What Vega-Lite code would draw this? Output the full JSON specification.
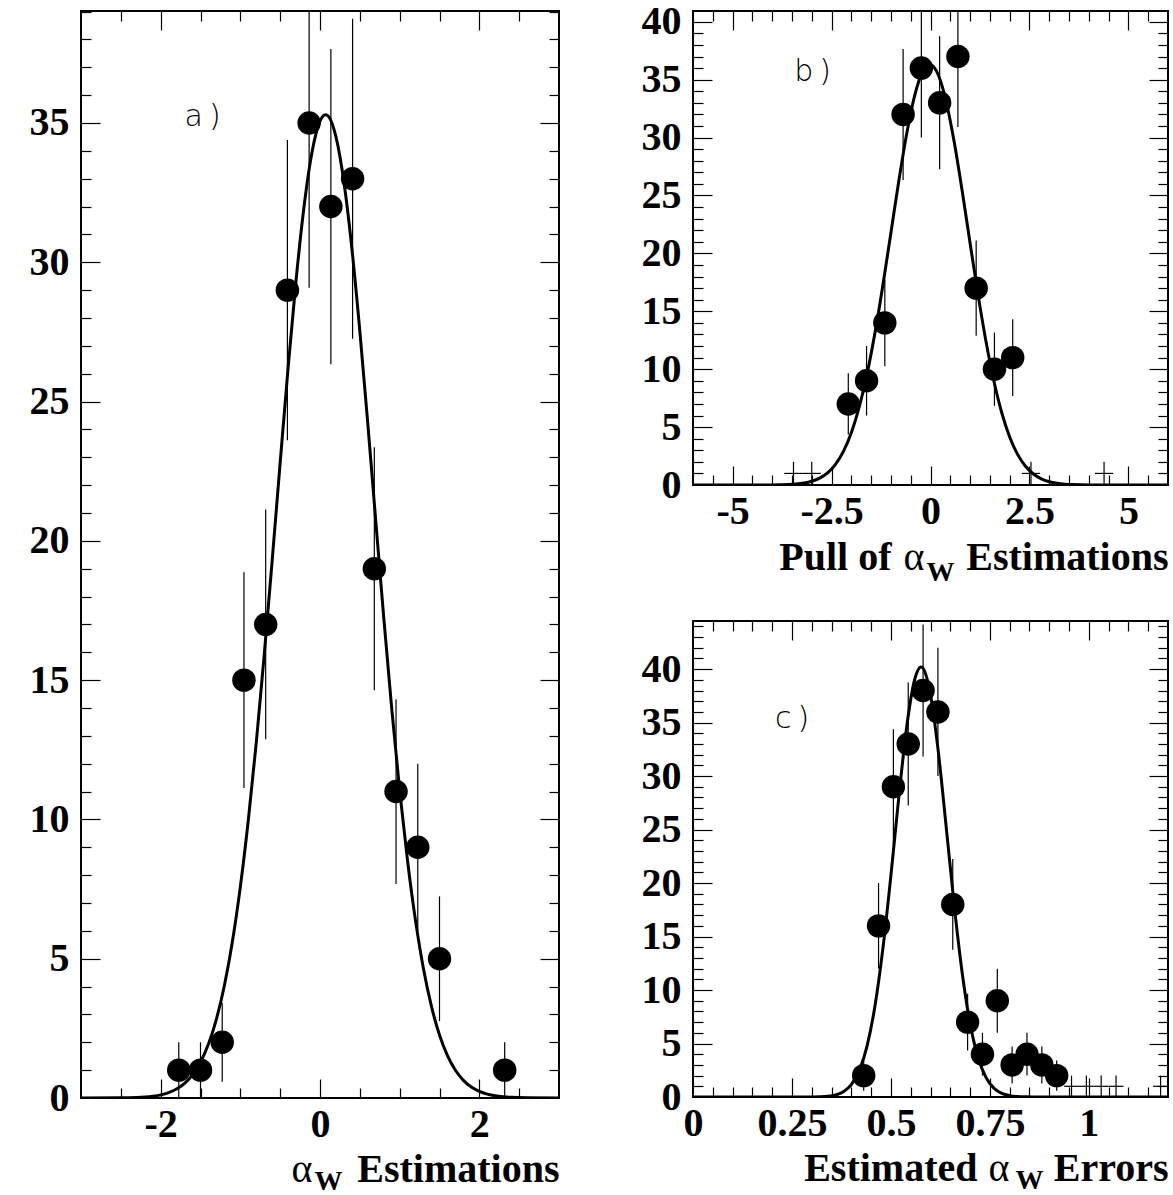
{
  "$schema": "https://vega.github.io/schema/vega-lite/v6.json",
  "background": "white",
  "padding": {"left": 28, "top": 0, "right": 0, "bottom": 0},
  "spacing": 134,
  "bounds": "flush",
  "config": {
    "view": {"stroke": "black", "strokeWidth": 2},
    "axis": {
      "grid": false,
      "domain": false,
      "labelFont": "Liberation Serif",
      "labelFontWeight": "bold",
      "labelFontSize": 40,
      "labelColor": "black",
      "labelFlush": false,
      "labelOverlap": false,
      "titleFont": "Liberation Serif",
      "titleFontWeight": "bold",
      "titleFontSize": 40,
      "titleColor": "black",
      "tickColor": "black",
      "tickWidth": 1.2
    }
  },
  "datasets": {
    "pointsA": [
      {"x": -1.7727, "n": 1, "lo": 0, "hi": 2},
      {"x": -1.5, "n": 1, "lo": 0, "hi": 2},
      {"x": -1.2273, "n": 2, "lo": 0.586, "hi": 3.414},
      {"x": -0.9545, "n": 15, "lo": 11.127, "hi": 18.873},
      {"x": -0.6818, "n": 17, "lo": 12.877, "hi": 21.123},
      {"x": -0.4091, "n": 29, "lo": 23.615, "hi": 34.385},
      {"x": -0.1364, "n": 35, "lo": 29.084, "hi": 40.916},
      {"x": 0.1364, "n": 32, "lo": 26.343, "hi": 37.657},
      {"x": 0.4091, "n": 33, "lo": 27.255, "hi": 38.745},
      {"x": 0.6818, "n": 19, "lo": 14.641, "hi": 23.359},
      {"x": 0.9545, "n": 11, "lo": 7.683, "hi": 14.317},
      {"x": 1.2273, "n": 9, "lo": 6, "hi": 12},
      {"x": 1.5, "n": 5, "lo": 2.764, "hi": 7.236},
      {"x": 2.3182, "n": 1, "lo": 0, "hi": 2}
    ],
    "curveA": [
      {"x": -3.0, "f": 0}, {"x": -2.5, "f": 0.005}, {"x": -2.3, "f": 0.019}, {"x": -2.2, "f": 0.035},
      {"x": -2.1, "f": 0.063}, {"x": -2.0, "f": 0.111}, {"x": -1.9, "f": 0.192}, {"x": -1.8, "f": 0.321},
      {"x": -1.7, "f": 0.524}, {"x": -1.6, "f": 0.832}, {"x": -1.5, "f": 1.286}, {"x": -1.4, "f": 1.935},
      {"x": -1.3, "f": 2.835}, {"x": -1.2, "f": 4.04}, {"x": -1.1, "f": 5.61}, {"x": -1.0, "f": 7.58},
      {"x": -0.9, "f": 9.97}, {"x": -0.8, "f": 12.76}, {"x": -0.7, "f": 15.91}, {"x": -0.6, "f": 19.31},
      {"x": -0.5, "f": 22.81}, {"x": -0.4, "f": 26.23}, {"x": -0.3, "f": 29.37}, {"x": -0.2, "f": 32.01},
      {"x": -0.1, "f": 33.96}, {"x": 0.0, "f": 35.07}, {"x": 0.07, "f": 35.3}, {"x": 0.1, "f": 35.26},
      {"x": 0.2, "f": 34.51}, {"x": 0.3, "f": 32.88}, {"x": 0.4, "f": 30.5}, {"x": 0.5, "f": 27.53},
      {"x": 0.6, "f": 24.21}, {"x": 0.7, "f": 20.71}, {"x": 0.8, "f": 17.25}, {"x": 0.9, "f": 13.99},
      {"x": 1.0, "f": 11.04}, {"x": 1.1, "f": 8.49}, {"x": 1.2, "f": 6.35}, {"x": 1.3, "f": 4.62},
      {"x": 1.4, "f": 3.28}, {"x": 1.5, "f": 2.26}, {"x": 1.6, "f": 1.52}, {"x": 1.7, "f": 0.994},
      {"x": 1.8, "f": 0.633}, {"x": 1.9, "f": 0.392}, {"x": 2.0, "f": 0.237}, {"x": 2.1, "f": 0.139},
      {"x": 2.2, "f": 0.079}, {"x": 2.3, "f": 0.044}, {"x": 2.4, "f": 0.024}, {"x": 2.6, "f": 0.0065},
      {"x": 3.0, "f": 0}
    ],
    "pointsB": [
      {"x": -2.0769, "n": 7, "lo": 4.354, "hi": 9.646},
      {"x": -1.6154, "n": 9, "lo": 6, "hi": 12},
      {"x": -1.1538, "n": 14, "lo": 10.258, "hi": 17.742},
      {"x": -0.6923, "n": 32, "lo": 26.343, "hi": 37.657},
      {"x": -0.2308, "n": 36, "lo": 30, "hi": 42},
      {"x": 0.2308, "n": 33, "lo": 27.255, "hi": 38.745},
      {"x": 0.6923, "n": 37, "lo": 30.917, "hi": 43.083},
      {"x": 1.1538, "n": 17, "lo": 12.877, "hi": 21.123},
      {"x": 1.6154, "n": 10, "lo": 6.838, "hi": 13.162},
      {"x": 2.0769, "n": 11, "lo": 7.683, "hi": 14.317}
    ],
    "crossB": [
      {"x": -3.4615, "xlo": -3.6923, "xhi": -3.2308, "n": 1, "lo": 0, "hi": 2},
      {"x": -3.0, "xlo": -3.2308, "xhi": -2.7692, "n": 1, "lo": 0, "hi": 2},
      {"x": 2.5385, "xlo": 2.3077, "xhi": 2.7692, "n": 1, "lo": 0, "hi": 2},
      {"x": 4.3846, "xlo": 4.1538, "xhi": 4.6154, "n": 1, "lo": 0, "hi": 2}
    ],
    "curveB": [
      {"x": -6.0, "f": 0}, {"x": -4.5, "f": 0.0008}, {"x": -4.0, "f": 0.008}, {"x": -3.6, "f": 0.04},
      {"x": -3.4, "f": 0.084}, {"x": -3.2, "f": 0.168}, {"x": -3.0, "f": 0.324}, {"x": -2.8, "f": 0.598},
      {"x": -2.6, "f": 1.056}, {"x": -2.4, "f": 1.789}, {"x": -2.2, "f": 2.906}, {"x": -2.0, "f": 4.52},
      {"x": -1.8, "f": 6.74}, {"x": -1.6, "f": 9.63}, {"x": -1.4, "f": 13.2}, {"x": -1.2, "f": 17.32},
      {"x": -1.0, "f": 21.79}, {"x": -0.8, "f": 26.27}, {"x": -0.6, "f": 30.36}, {"x": -0.4, "f": 33.62},
      {"x": -0.2, "f": 35.68}, {"x": 0.0, "f": 36.29}, {"x": 0.2, "f": 35.38}, {"x": 0.4, "f": 33.05},
      {"x": 0.6, "f": 29.59}, {"x": 0.8, "f": 25.4}, {"x": 1.0, "f": 20.88}, {"x": 1.2, "f": 16.46},
      {"x": 1.4, "f": 12.43}, {"x": 1.6, "f": 9.0}, {"x": 1.8, "f": 6.24}, {"x": 2.0, "f": 4.15},
      {"x": 2.2, "f": 2.646}, {"x": 2.4, "f": 1.615}, {"x": 2.6, "f": 0.946}, {"x": 2.8, "f": 0.53},
      {"x": 3.0, "f": 0.285}, {"x": 3.2, "f": 0.147}, {"x": 3.4, "f": 0.073}, {"x": 3.6, "f": 0.034},
      {"x": 4.0, "f": 0.007}, {"x": 4.5, "f": 0.0007}, {"x": 6.0, "f": 0}
    ],
    "pointsC": [
      {"x": 0.43125, "n": 2, "lo": 0.586, "hi": 3.414},
      {"x": 0.46875, "n": 16, "lo": 12, "hi": 20},
      {"x": 0.50625, "n": 29, "lo": 23.615, "hi": 34.385},
      {"x": 0.54375, "n": 33, "lo": 27.255, "hi": 38.745},
      {"x": 0.58125, "n": 38, "lo": 31.836, "hi": 44.164},
      {"x": 0.61875, "n": 36, "lo": 30, "hi": 42},
      {"x": 0.65625, "n": 18, "lo": 13.757, "hi": 22.243},
      {"x": 0.69375, "n": 7, "lo": 4.354, "hi": 9.646},
      {"x": 0.73125, "n": 4, "lo": 2, "hi": 6},
      {"x": 0.76875, "n": 9, "lo": 6, "hi": 12},
      {"x": 0.80625, "n": 3, "lo": 1.268, "hi": 4.732},
      {"x": 0.84375, "n": 4, "lo": 2, "hi": 6},
      {"x": 0.88125, "n": 3, "lo": 1.268, "hi": 4.732},
      {"x": 0.91875, "n": 2, "lo": 0.586, "hi": 3.414}
    ],
    "crossC": [
      {"x": 0.95625, "xlo": 0.9375, "xhi": 0.975, "n": 1, "lo": 0, "hi": 2},
      {"x": 0.99375, "xlo": 0.975, "xhi": 1.0125, "n": 1, "lo": 0, "hi": 2},
      {"x": 1.03125, "xlo": 1.0125, "xhi": 1.05, "n": 1, "lo": 0, "hi": 2},
      {"x": 1.06875, "xlo": 1.05, "xhi": 1.0875, "n": 1, "lo": 0, "hi": 2},
      {"x": 1.18125, "xlo": 1.1625, "xhi": 1.2, "n": 1, "lo": 0, "hi": 2}
    ],
    "curveC": [
      {"x": 0.0, "f": 0}, {"x": 0.28, "f": 0.0017}, {"x": 0.3, "f": 0.0064}, {"x": 0.32, "f": 0.0217},
      {"x": 0.34, "f": 0.0673}, {"x": 0.36, "f": 0.19}, {"x": 0.38, "f": 0.489}, {"x": 0.4, "f": 1.149},
      {"x": 0.42, "f": 2.461}, {"x": 0.44, "f": 4.81}, {"x": 0.46, "f": 8.58}, {"x": 0.48, "f": 13.96},
      {"x": 0.5, "f": 20.72}, {"x": 0.52, "f": 28.05}, {"x": 0.54, "f": 34.64}, {"x": 0.56, "f": 39.03},
      {"x": 0.576, "f": 40.2}, {"x": 0.58, "f": 40.13}, {"x": 0.6, "f": 37.63}, {"x": 0.62, "f": 32.19},
      {"x": 0.64, "f": 25.12}, {"x": 0.66, "f": 17.89}, {"x": 0.68, "f": 11.62}, {"x": 0.7, "f": 6.88},
      {"x": 0.72, "f": 3.72}, {"x": 0.74, "f": 1.835}, {"x": 0.76, "f": 0.825}, {"x": 0.78, "f": 0.339},
      {"x": 0.8, "f": 0.127}, {"x": 0.82, "f": 0.0433}, {"x": 0.84, "f": 0.0135}, {"x": 0.86, "f": 0.0038},
      {"x": 0.9, "f": 0}, {"x": 1.2, "f": 0}
    ]
  },
  "hconcat": [
    {
      "width": 478,
      "height": 1087,
      "resolve": {"axis": {"x": "independent", "y": "independent"}},
      "layer": [
        {
          "data": {"name": "pointsA"},
          "mark": {"type": "rule", "color": "black", "strokeWidth": 1.2, "clip": true},
          "encoding": {
            "x": {"field": "x", "type": "quantitative", "scale": {"domain": [-3, 3], "nice": false, "zero": false},
              "axis": {"orient": "bottom", "values": [-2.5, -2, -1.5, -1, -0.5, 0, 0.5, 1, 1.5, 2, 2.5], "labels": false,
                "tickSize": {"condition": {"test": "datum.value % 2 == 0", "value": -19}, "value": -10},
                "title": "α", "titleX": 231, "titleY": 83, "titleAlign": "right", "titleBaseline": "alphabetic", "titleFontWeight": "normal"}},
            "y": {"field": "lo", "type": "quantitative", "scale": {"domain": [0, 39.02], "nice": false},
              "axis": {"orient": "left", "values": [1,2,3,4,5,6,7,8,9,10,11,12,13,14,15,16,17,18,19,20,21,22,23,24,25,26,27,28,29,30,31,32,33,34,35,36,37,38,39], "labels": false,
                "tickSize": {"condition": {"test": "datum.value % 5 == 0", "value": -19}, "value": -10}, "title": null}},
            "y2": {"field": "hi"}
          }
        },
        {
          "data": {"name": "curveA"},
          "mark": {"type": "line", "color": "black", "strokeWidth": 3, "interpolate": "monotone", "clip": true},
          "encoding": {
            "x": {"field": "x", "type": "quantitative", "scale": {"domain": [-3, 3], "nice": false, "zero": false},
              "axis": {"orient": "top", "values": [-2.5, -2, -1.5, -1, -0.5, 0, 0.5, 1, 1.5, 2, 2.5], "labels": false,
                "tickSize": {"condition": {"test": "datum.value % 2 == 0", "value": -19}, "value": -10},
                "title": "W", "titleX": 233, "titleY": 1178, "titleAlign": "left", "titleBaseline": "alphabetic", "titleFontSize": 28}},
            "y": {"field": "f", "type": "quantitative", "scale": {"domain": [0, 39.02], "nice": false},
              "axis": {"orient": "right", "values": [1,2,3,4,5,6,7,8,9,10,11,12,13,14,15,16,17,18,19,20,21,22,23,24,25,26,27,28,29,30,31,32,33,34,35,36,37,38,39], "labels": false,
                "tickSize": {"condition": {"test": "datum.value % 5 == 0", "value": -19}, "value": -10}, "title": null}}
          }
        },
        {
          "data": {"name": "pointsA"},
          "mark": {"type": "point", "filled": true, "size": 550, "color": "black", "opacity": 1},
          "encoding": {
            "x": {"field": "x", "type": "quantitative", "scale": {"domain": [-3, 3], "nice": false, "zero": false},
              "axis": {"orient": "bottom", "values": [-2, 0, 2], "ticks": false, "labelPadding": 38, "labelBaseline": "alphabetic",
                "labelExpr": "'' + datum.value",
                "title": "Estimations", "titleX": 478, "titleY": 83, "titleAlign": "right", "titleBaseline": "alphabetic"}},
            "y": {"field": "n", "type": "quantitative", "scale": {"domain": [0, 39.02], "nice": false},
              "axis": {"orient": "left", "values": [0, 5, 10, 15, 20, 25, 30, 35], "ticks": false, "labelPadding": 12,
                "labelExpr": "'' + datum.value", "title": null}}
          }
        },
        {
          "data": {"values": [{}]},
          "mark": {"type": "text", "text": "a\u2009)", "align": "left", "baseline": "middle", "font": "DejaVu Sans", "fontWeight": 200, "fontSize": 30, "color": "black"},
          "encoding": {
            "x": {"datum": -1.7, "type": "quantitative", "axis": null},
            "y": {"datum": 35.2, "type": "quantitative", "axis": null}
          }
        }
      ]
    },
    {
      "spacing": 136,
      "bounds": "flush",
      "vconcat": [
        {
          "width": 475,
          "height": 474,
          "resolve": {"axis": {"x": "independent", "y": "independent"}},
          "layer": [
            {
              "data": {"name": "pointsB"},
              "mark": {"type": "rule", "color": "black", "strokeWidth": 1.2, "clip": true},
              "encoding": {
                "x": {"field": "x", "type": "quantitative", "scale": {"domain": [-6, 6], "nice": false, "zero": false},
                  "axis": {"orient": "bottom", "values": [-5.5,-5,-4.5,-4,-3.5,-3,-2.5,-2,-1.5,-1,-0.5,0,0.5,1,1.5,2,2.5,3,3.5,4,4.5,5,5.5], "labels": false,
                    "tickSize": {"condition": {"test": "datum.value % 2.5 == 0", "value": -19}, "value": -10},
                    "title": "α", "titleX": 231, "titleY": 84, "titleAlign": "right", "titleBaseline": "alphabetic", "titleFontWeight": "normal"}},
                "y": {"field": "lo", "type": "quantitative", "scale": {"domain": [0, 40.93], "nice": false},
                  "axis": {"orient": "left", "values": [1,2,3,4,5,6,7,8,9,10,11,12,13,14,15,16,17,18,19,20,21,22,23,24,25,26,27,28,29,30,31,32,33,34,35,36,37,38,39,40], "labels": false,
                    "tickSize": {"condition": {"test": "datum.value % 5 == 0", "value": -19}, "value": -10}, "title": null}},
                "y2": {"field": "hi"}
              }
            },
            {
              "data": {"name": "crossB"},
              "mark": {"type": "rule", "color": "black", "strokeWidth": 1.2, "clip": true},
              "encoding": {
                "x": {"field": "xlo", "type": "quantitative", "scale": {"domain": [-6, 6], "nice": false, "zero": false}, "axis": null},
                "x2": {"field": "xhi"},
                "y": {"field": "n", "type": "quantitative", "scale": {"domain": [0, 40.93], "nice": false}, "axis": null}
              }
            },
            {
              "data": {"name": "crossB"},
              "mark": {"type": "rule", "color": "black", "strokeWidth": 1.2, "clip": true},
              "encoding": {
                "x": {"field": "x", "type": "quantitative", "scale": {"domain": [-6, 6], "nice": false, "zero": false}, "axis": null},
                "y": {"field": "lo", "type": "quantitative", "scale": {"domain": [0, 40.93], "nice": false}, "axis": null},
                "y2": {"field": "hi"}
              }
            },
            {
              "data": {"name": "curveB"},
              "mark": {"type": "line", "color": "black", "strokeWidth": 3, "interpolate": "monotone", "clip": true},
              "encoding": {
                "x": {"field": "x", "type": "quantitative", "scale": {"domain": [-6, 6], "nice": false, "zero": false},
                  "axis": {"orient": "top", "values": [-5.5,-5,-4.5,-4,-3.5,-3,-2.5,-2,-1.5,-1,-0.5,0,0.5,1,1.5,2,2.5,3,3.5,4,4.5,5,5.5], "labels": false,
                    "tickSize": {"condition": {"test": "datum.value % 2.5 == 0", "value": -19}, "value": -10},
                    "title": "W", "titleX": 233, "titleY": 569, "titleAlign": "left", "titleBaseline": "alphabetic", "titleFontSize": 28}},
                "y": {"field": "f", "type": "quantitative", "scale": {"domain": [0, 40.93], "nice": false},
                  "axis": {"orient": "right", "values": [1,2,3,4,5,6,7,8,9,10,11,12,13,14,15,16,17,18,19,20,21,22,23,24,25,26,27,28,29,30,31,32,33,34,35,36,37,38,39,40], "labels": false,
                    "tickSize": {"condition": {"test": "datum.value % 5 == 0", "value": -19}, "value": -10}, "title": null}}
              }
            },
            {
              "data": {"name": "pointsB"},
              "mark": {"type": "point", "filled": true, "size": 550, "color": "black", "opacity": 1},
              "encoding": {
                "x": {"field": "x", "type": "quantitative", "scale": {"domain": [-6, 6], "nice": false, "zero": false},
                  "axis": {"orient": "bottom", "values": [-5, -2.5, 0, 2.5, 5], "ticks": false, "labelPadding": 38, "labelBaseline": "alphabetic",
                    "labelExpr": "'' + datum.value",
                    "title": "Estimations", "titleX": 475, "titleY": 84, "titleAlign": "right", "titleBaseline": "alphabetic"}},
                "y": {"field": "n", "type": "quantitative", "scale": {"domain": [0, 40.93], "nice": false},
                  "axis": {"orient": "left", "values": [0, 5, 10, 15, 20, 25, 30, 35, 40], "ticks": false, "labelPadding": 12,
                    "labelExpr": "'' + datum.value",
                    "title": "Pull of", "titleAngle": 0, "titleX": 198, "titleY": 558, "titleAlign": "right", "titleBaseline": "alphabetic"}}
              }
            },
            {
              "data": {"values": [{}]},
              "mark": {"type": "text", "text": "b\u2009)", "align": "left", "baseline": "middle", "font": "DejaVu Sans", "fontWeight": 200, "fontSize": 30, "color": "black"},
              "encoding": {
                "x": {"datum": -3.44, "type": "quantitative", "axis": null},
                "y": {"datum": 35.7, "type": "quantitative", "axis": null}
              }
            }
          ]
        },
        {
          "width": 475,
          "height": 476,
          "resolve": {"axis": {"x": "independent", "y": "independent"}},
          "layer": [
            {
              "data": {"name": "pointsC"},
              "mark": {"type": "rule", "color": "black", "strokeWidth": 1.2, "clip": true},
              "encoding": {
                "x": {"field": "x", "type": "quantitative", "scale": {"domain": [0, 1.2], "nice": false, "zero": false},
                  "axis": {"orient": "bottom", "values": [0.05,0.1,0.15,0.2,0.25,0.3,0.35,0.4,0.45,0.5,0.55,0.6,0.65,0.7,0.75,0.8,0.85,0.9,0.95,1,1.05,1.1,1.15], "labels": false,
                    "tickSize": {"condition": {"test": "round(datum.value * 20) % 5 == 0", "value": -19}, "value": -10},
                    "title": "α", "titleX": 316, "titleY": 83, "titleAlign": "right", "titleBaseline": "alphabetic", "titleFontWeight": "normal"}},
                "y": {"field": "lo", "type": "quantitative", "scale": {"domain": [0, 44.5], "nice": false},
                  "axis": {"orient": "left", "values": [1,2,3,4,5,6,7,8,9,10,11,12,13,14,15,16,17,18,19,20,21,22,23,24,25,26,27,28,29,30,31,32,33,34,35,36,37,38,39,40,41,42,43,44], "labels": false,
                    "tickSize": {"condition": {"test": "datum.value % 5 == 0", "value": -19}, "value": -10}, "title": null}},
                "y2": {"field": "hi"}
              }
            },
            {
              "data": {"name": "crossC"},
              "mark": {"type": "rule", "color": "black", "strokeWidth": 1.2, "clip": true},
              "encoding": {
                "x": {"field": "xlo", "type": "quantitative", "scale": {"domain": [0, 1.2], "nice": false, "zero": false}, "axis": null},
                "x2": {"field": "xhi"},
                "y": {"field": "n", "type": "quantitative", "scale": {"domain": [0, 44.5], "nice": false}, "axis": null}
              }
            },
            {
              "data": {"name": "crossC"},
              "mark": {"type": "rule", "color": "black", "strokeWidth": 1.2, "clip": true},
              "encoding": {
                "x": {"field": "x", "type": "quantitative", "scale": {"domain": [0, 1.2], "nice": false, "zero": false}, "axis": null},
                "y": {"field": "lo", "type": "quantitative", "scale": {"domain": [0, 44.5], "nice": false}, "axis": null},
                "y2": {"field": "hi"}
              }
            },
            {
              "data": {"name": "curveC"},
              "mark": {"type": "line", "color": "black", "strokeWidth": 3, "interpolate": "monotone", "clip": true},
              "encoding": {
                "x": {"field": "x", "type": "quantitative", "scale": {"domain": [0, 1.2], "nice": false, "zero": false},
                  "axis": {"orient": "top", "values": [0.05,0.1,0.15,0.2,0.25,0.3,0.35,0.4,0.45,0.5,0.55,0.6,0.65,0.7,0.75,0.8,0.85,0.9,0.95,1,1.05,1.1,1.15], "labels": false,
                    "tickSize": {"condition": {"test": "round(datum.value * 20) % 5 == 0", "value": -19}, "value": -10},
                    "title": "W", "titleX": 322, "titleY": 567, "titleAlign": "left", "titleBaseline": "alphabetic", "titleFontSize": 28}},
                "y": {"field": "f", "type": "quantitative", "scale": {"domain": [0, 44.5], "nice": false},
                  "axis": {"orient": "right", "values": [1,2,3,4,5,6,7,8,9,10,11,12,13,14,15,16,17,18,19,20,21,22,23,24,25,26,27,28,29,30,31,32,33,34,35,36,37,38,39,40,41,42,43,44], "labels": false,
                    "tickSize": {"condition": {"test": "datum.value % 5 == 0", "value": -19}, "value": -10}, "title": null}}
              }
            },
            {
              "data": {"name": "pointsC"},
              "mark": {"type": "point", "filled": true, "size": 550, "color": "black", "opacity": 1},
              "encoding": {
                "x": {"field": "x", "type": "quantitative", "scale": {"domain": [0, 1.2], "nice": false, "zero": false},
                  "axis": {"orient": "bottom", "values": [0, 0.25, 0.5, 0.75, 1], "ticks": false, "labelPadding": 38, "labelBaseline": "alphabetic",
                    "labelExpr": "'' + datum.value",
                    "title": "Errors", "titleX": 475, "titleY": 83, "titleAlign": "right", "titleBaseline": "alphabetic"}},
                "y": {"field": "n", "type": "quantitative", "scale": {"domain": [0, 44.5], "nice": false},
                  "axis": {"orient": "left", "values": [0, 5, 10, 15, 20, 25, 30, 35, 40], "ticks": false, "labelPadding": 12,
                    "labelExpr": "'' + datum.value",
                    "title": "Estimated", "titleAngle": 0, "titleX": 284, "titleY": 559, "titleAlign": "right", "titleBaseline": "alphabetic"}}
              }
            },
            {
              "data": {"values": [{}]},
              "mark": {"type": "text", "text": "c\u2009)", "align": "left", "baseline": "middle", "font": "DejaVu Sans", "fontWeight": 200, "fontSize": 30, "color": "black"},
              "encoding": {
                "x": {"datum": 0.207, "type": "quantitative", "axis": null},
                "y": {"datum": 35.3, "type": "quantitative", "axis": null}
              }
            }
          ]
        }
      ]
    }
  ]
}
